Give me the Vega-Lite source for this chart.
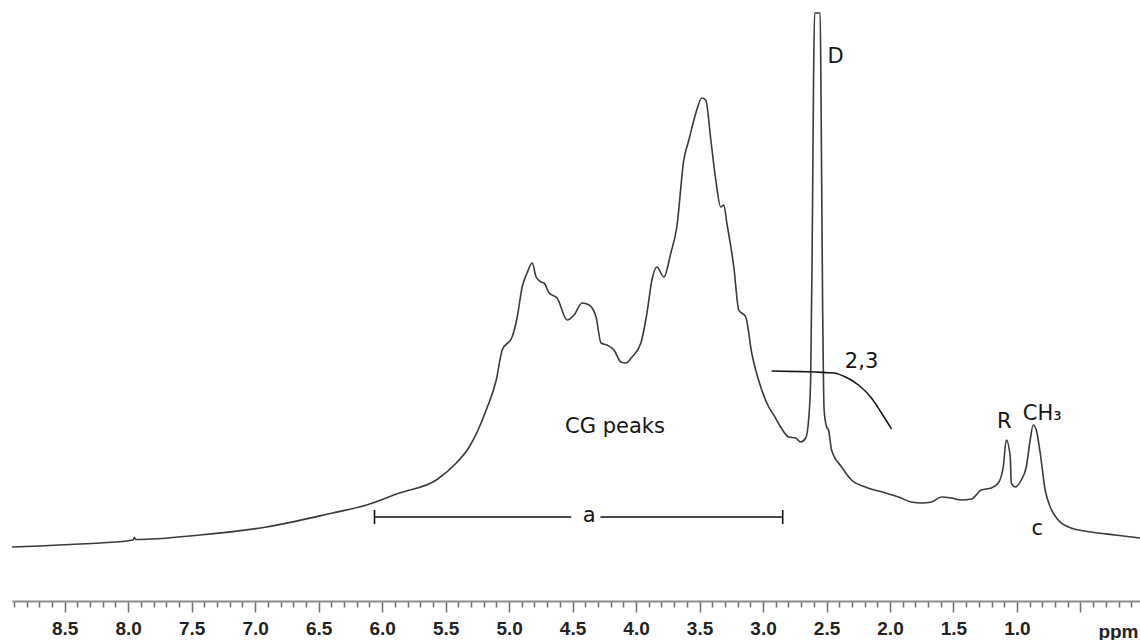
{
  "$schema": "https://vega.github.io/schema/vega-lite/v6.json",
  "width": 1128,
  "height": 601,
  "autosize": "none",
  "padding": {"left": 12, "top": 0, "right": 0, "bottom": 39},
  "background": "white",
  "config": {"view": {"stroke": null}},
  "datasets": {
    "spectrum": [
      {"ppm": 8.914, "I": 0.1}, {"ppm": 8.694, "I": 0.2}, {"ppm": 8.458, "I": 0.35}, {"ppm": 8.222, "I": 0.5},
      {"ppm": 7.963, "I": 0.8}, {"ppm": 7.951, "I": 1.05}, {"ppm": 7.94, "I": 0.85}, {"ppm": 7.436, "I": 1.3},
      {"ppm": 6.91, "I": 2.1}, {"ppm": 6.391, "I": 3.5}, {"ppm": 6.123, "I": 4.3}, {"ppm": 5.864, "I": 5.5},
      {"ppm": 5.573, "I": 6.8}, {"ppm": 5.416, "I": 8.5}, {"ppm": 5.314, "I": 10.1}, {"ppm": 5.18, "I": 13.8},
      {"ppm": 5.101, "I": 16.8}, {"ppm": 5.054, "I": 19.8}, {"ppm": 4.976, "I": 21.1}, {"ppm": 4.936, "I": 23.1},
      {"ppm": 4.897, "I": 26.1}, {"ppm": 4.858, "I": 27.5}, {"ppm": 4.818, "I": 28.5}, {"ppm": 4.787, "I": 27.1},
      {"ppm": 4.748, "I": 26.6}, {"ppm": 4.724, "I": 26.5}, {"ppm": 4.685, "I": 25.5}, {"ppm": 4.622, "I": 25.0},
      {"ppm": 4.543, "I": 22.8}, {"ppm": 4.488, "I": 23.3}, {"ppm": 4.425, "I": 24.5}, {"ppm": 4.37, "I": 24.3},
      {"ppm": 4.315, "I": 23.1}, {"ppm": 4.276, "I": 20.5}, {"ppm": 4.229, "I": 20.3}, {"ppm": 4.174, "I": 19.8},
      {"ppm": 4.119, "I": 18.6}, {"ppm": 4.08, "I": 18.5}, {"ppm": 4.032, "I": 19.1}, {"ppm": 3.962, "I": 20.5},
      {"ppm": 3.914, "I": 23.5}, {"ppm": 3.875, "I": 26.8}, {"ppm": 3.836, "I": 28.1}, {"ppm": 3.781, "I": 27.1},
      {"ppm": 3.726, "I": 29.5}, {"ppm": 3.679, "I": 32.1}, {"ppm": 3.624, "I": 38.8}, {"ppm": 3.584, "I": 40.8},
      {"ppm": 3.529, "I": 43.5}, {"ppm": 3.482, "I": 45.0}, {"ppm": 3.451, "I": 44.8}, {"ppm": 3.411, "I": 40.8},
      {"ppm": 3.372, "I": 36.8}, {"ppm": 3.333, "I": 34.1}, {"ppm": 3.309, "I": 34.3}, {"ppm": 3.285, "I": 32.5},
      {"ppm": 3.23, "I": 28.1}, {"ppm": 3.191, "I": 23.8}, {"ppm": 3.136, "I": 23.1}, {"ppm": 3.089, "I": 19.5},
      {"ppm": 3.018, "I": 16.1}, {"ppm": 2.955, "I": 14.1}, {"ppm": 2.916, "I": 13.3}, {"ppm": 2.861, "I": 12.1},
      {"ppm": 2.798, "I": 11.1}, {"ppm": 2.743, "I": 11.0}, {"ppm": 2.704, "I": 10.6}, {"ppm": 2.664, "I": 11.0},
      {"ppm": 2.641, "I": 12.8}, {"ppm": 2.625, "I": 16.8}, {"ppm": 2.613, "I": 29.8}, {"ppm": 2.602, "I": 46.8},
      {"ppm": 2.594, "I": 53.5}, {"ppm": 2.55, "I": 53.5}, {"ppm": 2.543, "I": 44.8}, {"ppm": 2.531, "I": 24.8},
      {"ppm": 2.519, "I": 13.8}, {"ppm": 2.499, "I": 12.1}, {"ppm": 2.484, "I": 11.8}, {"ppm": 2.46, "I": 9.8},
      {"ppm": 2.381, "I": 8.1}, {"ppm": 2.303, "I": 6.8}, {"ppm": 2.193, "I": 6.1}, {"ppm": 2.035, "I": 5.5},
      {"ppm": 1.933, "I": 5.1}, {"ppm": 1.831, "I": 4.6}, {"ppm": 1.752, "I": 4.5}, {"ppm": 1.674, "I": 4.6},
      {"ppm": 1.595, "I": 5.1}, {"ppm": 1.517, "I": 5.0}, {"ppm": 1.438, "I": 4.8}, {"ppm": 1.359, "I": 4.9},
      {"ppm": 1.281, "I": 5.8}, {"ppm": 1.202, "I": 6.0}, {"ppm": 1.147, "I": 6.5}, {"ppm": 1.108, "I": 8.1},
      {"ppm": 1.084, "I": 10.8}, {"ppm": 1.053, "I": 9.1}, {"ppm": 1.045, "I": 6.5}, {"ppm": 1.013, "I": 6.1},
      {"ppm": 0.966, "I": 6.8}, {"ppm": 0.927, "I": 8.1}, {"ppm": 0.896, "I": 10.8}, {"ppm": 0.872, "I": 12.3},
      {"ppm": 0.848, "I": 11.8}, {"ppm": 0.817, "I": 9.5}, {"ppm": 0.778, "I": 5.8}, {"ppm": 0.738, "I": 4.1},
      {"ppm": 0.675, "I": 2.8}, {"ppm": 0.573, "I": 2.0}, {"ppm": 0.416, "I": 1.6}, {"ppm": 0.227, "I": 1.3},
      {"ppm": 0.031, "I": 1.0}
    ],
    "bracket": [
      {"ppm": 6.06, "ppm2": 4.51, "I": 3.1, "I2": 3.1},
      {"ppm": 4.28, "ppm2": 2.845, "I": 3.1, "I2": 3.1},
      {"ppm": 6.06, "ppm2": 6.06, "I": 3.8, "I2": 2.4},
      {"ppm": 2.845, "ppm2": 2.845, "I": 3.8, "I2": 2.4}
    ],
    "leader": [
      {"ppm": 2.932, "I": 17.7}, {"ppm": 2.444, "I": 17.5}, {"ppm": 2.35, "I": 17.1},
      {"ppm": 2.248, "I": 16.3}, {"ppm": 2.146, "I": 15.0}, {"ppm": 2.067, "I": 13.5},
      {"ppm": 1.988, "I": 11.9}
    ],
    "labels": [
      {"ppm": 2.429, "I": 48.5, "label": "D"},
      {"ppm": 2.224, "I": 18.0, "label": "2,3"},
      {"ppm": 1.1, "I": 12.0, "label": "R"},
      {"ppm": 0.801, "I": 12.8, "label": "CH₃"},
      {"ppm": 0.84, "I": 1.3, "label": "c"},
      {"ppm": 4.166, "I": 11.5, "label": "CG peaks"},
      {"ppm": 4.37, "I": 2.6, "label": "a"}
    ]
  },
  "encoding": {
    "x": {
      "field": "ppm",
      "type": "quantitative",
      "scale": {"domain": [0.031, 8.915], "reverse": true, "nice": false, "zero": false},
      "axis": {
        "values": [0.1,0.2,0.3,0.4,0.5,0.6,0.7,0.8,0.9,1.0,1.1,1.2,1.3,1.4,1.5,1.6,1.7,1.8,1.9,2.0,2.1,2.2,2.3,2.4,2.5,2.6,2.7,2.8,2.9,3.0,3.1,3.2,3.3,3.4,3.5,3.6,3.7,3.8,3.9,4.0,4.1,4.2,4.3,4.4,4.5,4.6,4.7,4.8,4.9,5.0,5.1,5.2,5.3,5.4,5.5,5.6,5.7,5.8,5.9,6.0,6.1,6.2,6.3,6.4,6.5,6.6,6.7,6.8,6.9,7.0,7.1,7.2,7.3,7.4,7.5,7.6,7.7,7.8,7.9,8.0,8.1,8.2,8.3,8.4,8.5,8.6,8.7,8.8,8.9],
        "labelExpr": "abs(datum.value * 2 - round(datum.value * 2)) < 0.01 && datum.value > 0.75 ? format(datum.value, '.1f') : ''",
        "tickSize": {"condition": {"test": "abs(datum.value * 2 - round(datum.value * 2)) < 0.01", "value": 11}, "value": 6},
        "tickColor": "#6e6e6e",
        "tickWidth": 1.5,
        "domainColor": "#8c8c8c",
        "domainWidth": 2,
        "grid": false,
        "labelFont": "Liberation Sans",
        "labelFontSize": 19,
        "labelFontWeight": "bold",
        "labelColor": "#222222",
        "labelPadding": 7,
        "labelOverlap": false,
        "labelFlush": false,
        "title": "ppm",
        "titleFont": "Liberation Sans",
        "titleFontSize": 19,
        "titleFontWeight": "bold",
        "titleColor": "#222222",
        "titleAnchor": "end",
        "titleAlign": "right",
        "titleBaseline": "alphabetic",
        "titleX": 1126,
        "titleY": 36
      }
    },
    "y": {
      "field": "I",
      "type": "quantitative",
      "scale": {"domain": [-5.3, 54.8], "nice": false, "zero": false},
      "axis": null
    }
  },
  "layer": [
    {
      "data": {"name": "spectrum"},
      "mark": {"type": "line", "interpolate": "monotone", "stroke": "#3a3a3a", "strokeWidth": 1.6}
    },
    {
      "data": {"name": "bracket"},
      "mark": {"type": "rule", "stroke": "#111111", "strokeWidth": 1.6},
      "encoding": {"x2": {"field": "ppm2"}, "y2": {"field": "I2"}}
    },
    {
      "data": {"name": "leader"},
      "mark": {"type": "line", "interpolate": "monotone", "stroke": "#111111", "strokeWidth": 1.5}
    },
    {
      "data": {"name": "labels"},
      "mark": {"type": "text", "font": "DejaVu Sans", "fontSize": 21, "align": "center", "baseline": "alphabetic", "fill": "#141414"},
      "encoding": {"text": {"field": "label"}}
    }
  ]
}
